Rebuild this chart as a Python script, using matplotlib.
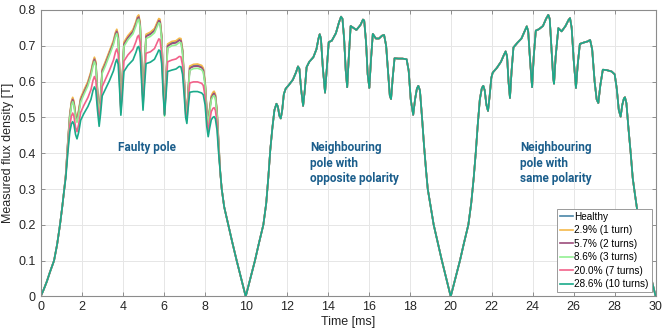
import numpy as np
import matplotlib.pyplot as plt

plt.rcParams['font.family'] = ['Liberation Sans', 'DejaVu Sans']

labels = ['Healthy', '2.9% (1 turn)', '5.7% (2 turns)', '8.6% (3 turns)',
          '20.0% (7 turns)', '28.6% (10 turns)']
colors = ['#4a86a8', '#f5b94a', '#9c4d7c', '#92f092', '#f2628a', '#1aaa8a']

# faulty pole, rising and falling edges (same for all cases)
t_p1_rise = [0, 0.15, 0.3, 0.45, 0.65, 0.8, 0.94, 1.05, 1.15]
b_p1_rise = [0, 0.02, 0.042, 0.068, 0.1, 0.145, 0.2, 0.25, 0.3]
t_p1_fall = [8.76, 8.83, 8.95, 9.15, 9.35, 9.56, 9.78, 10.0]
b_p1_fall = [0.345, 0.3, 0.25, 0.2, 0.15, 0.1, 0.05, 0.0]

# faulty pole, top part
t_p1 = [1.22, 1.32, 1.42, 1.50, 1.56, 1.62, 1.70, 1.77, 1.85, 1.95,
        2.10, 2.30, 2.45, 2.55, 2.62, 2.69, 2.77, 2.85, 2.92, 3.00,
        3.15, 3.35, 3.55, 3.65, 3.71, 3.78, 3.85, 3.91, 3.98, 4.06,
        4.25, 4.50, 4.65, 4.72, 4.78, 4.85, 4.93, 4.99, 5.06, 5.14,
        5.35, 5.55, 5.70, 5.76, 5.82, 5.90, 5.98, 6.04, 6.11, 6.19,
        6.40, 6.60, 6.76, 6.84, 6.92, 7.00, 7.07, 7.13, 7.19, 7.27,
        7.45, 7.65, 7.85, 7.93, 8.02, 8.10, 8.17, 8.24, 8.32, 8.40,
        8.46, 8.52, 8.60, 8.68]
b_p1_healthy = [0.339, 0.428, 0.507, 0.542, 0.553, 0.542, 0.507, 0.494, 0.517, 0.552,
                0.572, 0.597, 0.625, 0.652, 0.665, 0.652, 0.572, 0.517, 0.557, 0.632,
                0.652, 0.682, 0.712, 0.735, 0.743, 0.727, 0.627, 0.527, 0.607, 0.707,
                0.725, 0.742, 0.765, 0.779, 0.783, 0.762, 0.637, 0.547, 0.637, 0.729,
                0.735, 0.745, 0.765, 0.773, 0.771, 0.727, 0.597, 0.51, 0.597, 0.702,
                0.709, 0.711, 0.718, 0.717, 0.687, 0.607, 0.527, 0.504, 0.572, 0.64,
                0.645, 0.646, 0.642, 0.635, 0.597, 0.522, 0.49, 0.522, 0.557, 0.567,
                0.57, 0.562, 0.517, 0.428]
b_p1_1turn = [0.34, 0.43, 0.51, 0.545, 0.556, 0.545, 0.51, 0.497, 0.52, 0.555,
              0.575, 0.60, 0.628, 0.655, 0.668, 0.655, 0.575, 0.52, 0.56, 0.635,
              0.655, 0.685, 0.715, 0.738, 0.746, 0.73, 0.63, 0.53, 0.61, 0.71,
              0.728, 0.745, 0.768, 0.782, 0.786, 0.765, 0.64, 0.55, 0.64, 0.732,
              0.738, 0.748, 0.768, 0.776, 0.774, 0.73, 0.6, 0.513, 0.6, 0.705,
              0.712, 0.714, 0.721, 0.72, 0.69, 0.61, 0.53, 0.507, 0.575, 0.643,
              0.648, 0.649, 0.645, 0.638, 0.6, 0.525, 0.493, 0.525, 0.56, 0.57,
              0.573, 0.565, 0.52, 0.43]
b_p1_2turns = [0.338, 0.425, 0.504, 0.539, 0.55, 0.539, 0.504, 0.491, 0.514, 0.549,
               0.569, 0.594, 0.622, 0.649, 0.662, 0.649, 0.569, 0.514, 0.554, 0.629,
               0.649, 0.679, 0.709, 0.732, 0.74, 0.724, 0.624, 0.524, 0.604, 0.704,
               0.722, 0.739, 0.762, 0.776, 0.78, 0.759, 0.634, 0.544, 0.634, 0.726,
               0.732, 0.742, 0.762, 0.77, 0.768, 0.724, 0.594, 0.507, 0.594, 0.699,
               0.706, 0.708, 0.715, 0.714, 0.684, 0.604, 0.524, 0.501, 0.569, 0.637,
               0.642, 0.643, 0.639, 0.632, 0.594, 0.519, 0.487, 0.519, 0.554, 0.564,
               0.567, 0.559, 0.514, 0.425]
b_p1_3turns = [0.337, 0.422, 0.499, 0.533, 0.544, 0.533, 0.499, 0.486, 0.508, 0.543,
               0.563, 0.588, 0.616, 0.643, 0.656, 0.643, 0.564, 0.509, 0.549, 0.623,
               0.643, 0.673, 0.703, 0.726, 0.734, 0.718, 0.619, 0.52, 0.599, 0.698,
               0.716, 0.733, 0.756, 0.77, 0.774, 0.753, 0.629, 0.54, 0.629, 0.72,
               0.726, 0.736, 0.756, 0.764, 0.762, 0.718, 0.589, 0.503, 0.589, 0.693,
               0.7, 0.702, 0.709, 0.708, 0.678, 0.599, 0.52, 0.497, 0.564, 0.631,
               0.636, 0.637, 0.633, 0.626, 0.589, 0.515, 0.483, 0.514, 0.549, 0.558,
               0.561, 0.553, 0.509, 0.422]
b_p1_7turns = [0.335, 0.41, 0.478, 0.504, 0.512, 0.503, 0.472, 0.46, 0.48, 0.514,
               0.533, 0.555, 0.577, 0.603, 0.614, 0.603, 0.539, 0.491, 0.528, 0.586,
               0.605, 0.631, 0.66, 0.683, 0.691, 0.677, 0.594, 0.514, 0.578, 0.657,
               0.674, 0.69, 0.712, 0.725, 0.729, 0.71, 0.608, 0.531, 0.604, 0.679,
               0.683, 0.692, 0.711, 0.719, 0.717, 0.678, 0.574, 0.509, 0.574, 0.655,
               0.66, 0.663, 0.67, 0.669, 0.645, 0.578, 0.51, 0.491, 0.543, 0.596,
               0.599, 0.599, 0.595, 0.589, 0.558, 0.493, 0.462, 0.489, 0.516, 0.525,
               0.527, 0.52, 0.484, 0.41]
b_p1_10turns = [0.33, 0.40, 0.46, 0.482, 0.488, 0.48, 0.452, 0.44, 0.458, 0.492,
                0.51, 0.53, 0.55, 0.575, 0.585, 0.575, 0.52, 0.475, 0.51, 0.56,
                0.578, 0.602, 0.63, 0.653, 0.662, 0.648, 0.575, 0.506, 0.56, 0.628,
                0.645, 0.66, 0.682, 0.695, 0.698, 0.68, 0.59, 0.52, 0.585, 0.65,
                0.654, 0.662, 0.68, 0.688, 0.686, 0.65, 0.56, 0.506, 0.56, 0.628,
                0.632, 0.635, 0.642, 0.641, 0.62, 0.56, 0.5, 0.483, 0.525, 0.57,
                0.572, 0.572, 0.568, 0.563, 0.535, 0.475, 0.446, 0.47, 0.493, 0.5,
                0.502, 0.496, 0.465, 0.40]
b_p1_cases = [b_p1_healthy, b_p1_1turn, b_p1_2turns, b_p1_3turns,
              b_p1_7turns, b_p1_10turns]

# neighbouring pole, opposite polarity
t_p2 = [10.0, 10.2, 10.45, 10.65, 10.86, 11.0, 11.1, 11.2, 11.3, 11.4,
        11.5, 11.57, 11.64, 11.71, 11.78, 11.86, 11.95, 12.1, 12.3, 12.45,
        12.55, 12.62, 12.7, 12.8, 12.88, 12.97, 13.1, 13.3, 13.45, 13.55,
        13.61, 13.67, 13.76, 13.87, 13.95, 14.05, 14.2, 14.4, 14.55, 14.65,
        14.72, 14.8, 14.88, 14.95, 15.03, 15.12, 15.25, 15.4, 15.6, 15.72,
        15.78, 15.87, 15.95, 16.03, 16.11, 16.2, 16.35, 16.5, 16.65, 16.75,
        16.85, 16.95, 17.03, 17.09, 17.17, 17.26, 17.45, 17.65, 17.85, 17.95,
        18.05, 18.17, 18.26, 18.35, 18.42, 18.5, 18.6, 18.7, 18.8, 18.88,
        19.17, 19.57, 20.0]
b_p2 = [0.0, 0.045, 0.1, 0.15, 0.2, 0.26, 0.33, 0.41, 0.47, 0.52,
        0.538, 0.53, 0.505, 0.497, 0.52, 0.565, 0.58, 0.59, 0.605, 0.625,
        0.642, 0.635, 0.58, 0.532, 0.575, 0.64, 0.655, 0.668, 0.69, 0.72,
        0.732, 0.72, 0.64, 0.569, 0.63, 0.71, 0.714, 0.735, 0.765, 0.781,
        0.775, 0.72, 0.63, 0.584, 0.67, 0.755, 0.75, 0.744, 0.758, 0.773,
        0.77, 0.71, 0.62, 0.582, 0.66, 0.733, 0.72, 0.72, 0.728, 0.73,
        0.7, 0.62, 0.56, 0.551, 0.61, 0.665, 0.664, 0.664, 0.662, 0.63,
        0.55, 0.507, 0.55, 0.58, 0.588, 0.575, 0.5, 0.42, 0.35, 0.3,
        0.2, 0.1, 0.0]

# neighbouring pole, same polarity
t_p3 = [20.0, 20.2, 20.45, 20.65, 20.86, 21.0, 21.12, 21.22, 21.32, 21.42,
        21.52, 21.59, 21.66, 21.74, 21.82, 21.9, 21.98, 22.05, 22.25, 22.45,
        22.6, 22.68, 22.75, 22.82, 22.89, 22.97, 23.06, 23.25, 23.45, 23.6,
        23.71, 23.78, 23.87, 23.97, 24.05, 24.15, 24.3, 24.5, 24.65, 24.76,
        24.83, 24.92, 25.0, 25.04, 25.12, 25.25, 25.41, 25.6, 25.75, 25.82,
        25.9, 26.0, 26.11, 26.2, 26.3, 26.5, 26.68, 26.8, 26.9, 27.02,
        27.12, 27.2, 27.3, 27.42, 27.6, 27.85, 28.0, 28.1, 28.2, 28.29,
        28.37, 28.45, 28.5, 28.57, 28.67, 28.78, 28.88, 29.0, 29.2, 29.57,
        30.0]
b_p3 = [0.0, 0.045, 0.1, 0.15, 0.2, 0.26, 0.33, 0.4, 0.48, 0.55,
        0.582, 0.588, 0.575, 0.535, 0.518, 0.56, 0.61, 0.625, 0.638, 0.655,
        0.675, 0.684, 0.67, 0.6, 0.554, 0.63, 0.695, 0.708, 0.72, 0.74,
        0.754, 0.74, 0.66, 0.584, 0.67, 0.742, 0.746, 0.755, 0.775, 0.786,
        0.775, 0.69, 0.61, 0.594, 0.67, 0.749, 0.74, 0.755, 0.772, 0.777,
        0.75, 0.66, 0.582, 0.65, 0.705, 0.709, 0.712, 0.716, 0.69, 0.6,
        0.55, 0.54, 0.59, 0.633, 0.632, 0.628, 0.62, 0.58, 0.52, 0.502,
        0.535, 0.553, 0.556, 0.54, 0.47, 0.4, 0.33, 0.28, 0.2, 0.1,
        0.0]

fig = plt.figure(figsize=(6.62, 3.36), dpi=100)
ax = fig.add_axes([0.0615, 0.1176, 0.929, 0.853])

for b_p1, lab, col in zip(b_p1_cases, labels, colors):
    t = t_p1_rise + t_p1 + t_p1_fall + t_p2 + t_p3
    b = b_p1_rise + b_p1 + b_p1_fall + b_p2 + b_p3
    ax.plot(t, b, color=col, lw=1.2, label=lab)

ax.set_xlim(0, 30)
ax.set_ylim(0, 0.8)
ax.set_xticks(np.arange(0, 31, 2))
ax.set_yticks(np.arange(0, 0.81, 0.1))
ax.set_yticklabels(['0', '0.1', '0.2', '0.3', '0.4', '0.5', '0.6', '0.7', '0.8'])
ax.grid(True, color='#e6e6e6', lw=0.7)
ax.set_axisbelow(True)
ax.tick_params(direction='in', length=3, width=0.6, color='#808080',
               labelcolor='#262626', labelsize=9, top=True, right=True)
for s in ax.spines.values():
    s.set_color('#8c8c8c')
    s.set_linewidth(0.8)
ax.set_xlabel('Time [ms]', fontsize=9, color='#262626', labelpad=2)
ax.set_ylabel('Measured flux density [T]', fontsize=9, color='#262626', labelpad=3)

txt = dict(color='#1b5e8c', fontsize=8.5, fontweight='bold',
           family=['Roboto', 'DejaVu Sans'], va='center')
ax.text(5.2, 0.417, 'Faulty pole', ha='center', **txt)
ax.text(13.15, 0.372, 'Neighbouring\npole with\nopposite polarity',
        ha='left', linespacing=1.25, **txt)
ax.text(23.4, 0.372, 'Neighbouring\npole with\nsame polarity',
        ha='left', linespacing=1.25, **txt)

leg = ax.legend(loc='lower right', fontsize=7.2, handlelength=1.3,
                handletextpad=0.15, labelspacing=0.35, borderpad=0.3,
                borderaxespad=0.4, fancybox=False, framealpha=1)
leg.get_frame().set_edgecolor('#9a9a9a')
leg.get_frame().set_linewidth(0.7)

fig.savefig('out.png', dpi=100)
